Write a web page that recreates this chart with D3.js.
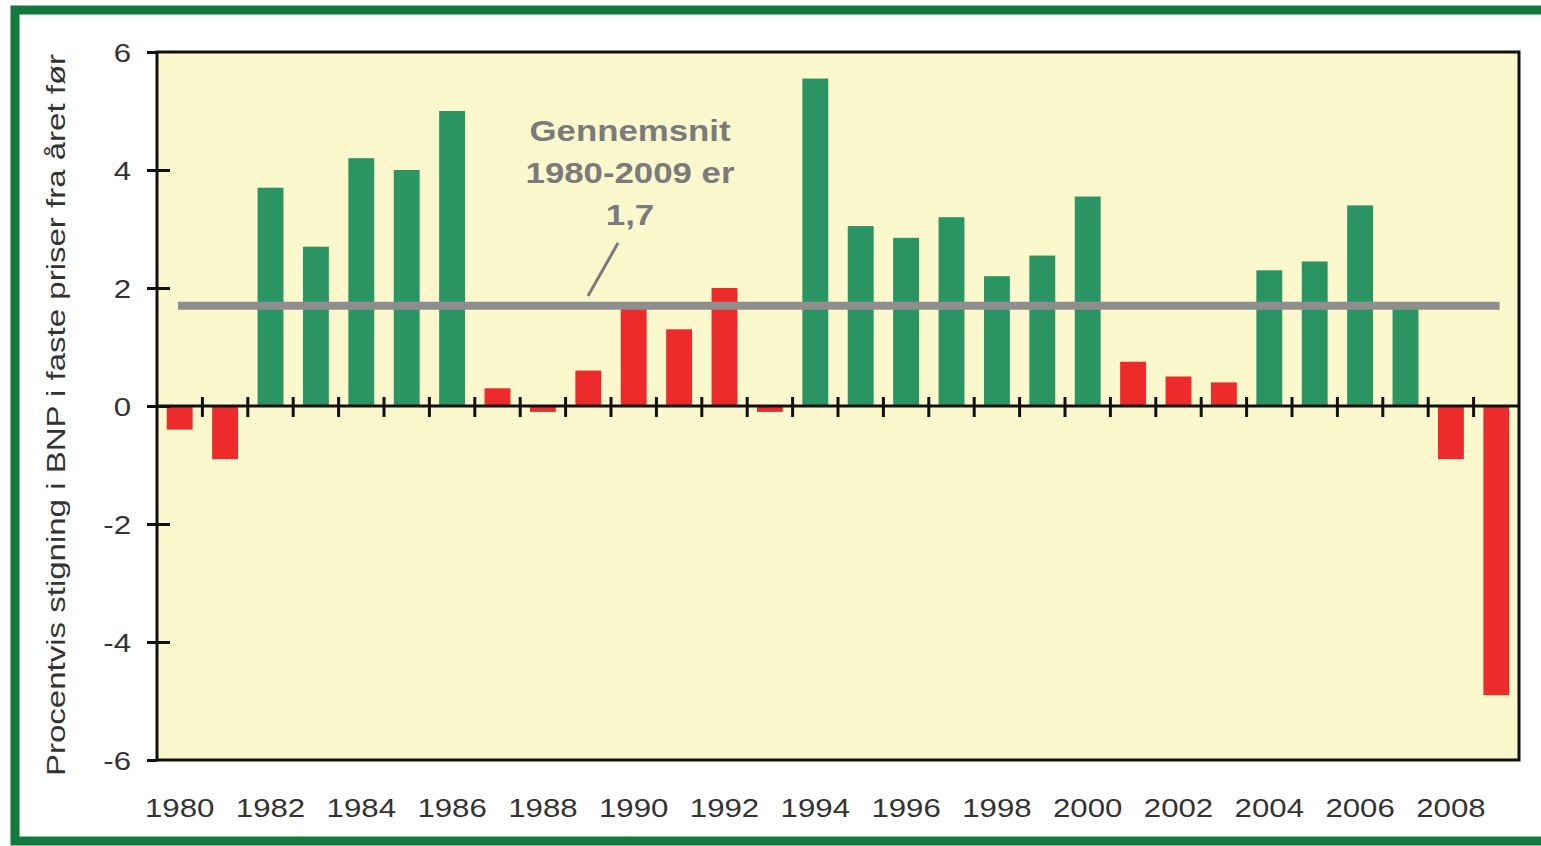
<!DOCTYPE html>
<html><head><meta charset="utf-8">
<script src="https://cdn.jsdelivr.net/npm/d3@7"></script>
<style>html,body{margin:0;padding:0;background:#fff;}svg{display:block;}</style>
</head><body>
<script>
const years = d3.range(1980, 2010);
const values = [-0.4,-0.9,3.7,2.7,4.2,4.0,5.0,0.3,-0.1,0.6,1.7,1.3,2.0,-0.1,5.55,3.05,2.85,3.2,2.2,2.55,3.55,0.75,0.5,0.4,2.3,2.45,3.4,1.7,-0.9,-4.9];
const aboveAvg = [0,0,1,1,1,1,1,0,0,0,0,0,0,0,1,1,1,1,1,1,1,0,0,0,1,1,1,1,0,0];
const yTicks = [-6,-4,-2,0,2,4,6];
const xTickLabels = d3.range(1980, 2010, 2);
const average = 1.7;
const annotation = ["Gennemsnit", "1980-2009 er", "1,7"];
const yLabel = "Procentvis stigning i BNP i faste priser fra året før";

const W = 1541, H = 846;
const SX = 1.2; // horizontal stretch of the original picture's text
const FONT = "Liberation Sans, Arial, sans-serif";
const m = {left:157, right:1519, top:52, bottom:760};
const svg = d3.select("body").append("svg").attr("width", W).attr("height", H);

// frame
svg.append("rect").attr("x",15).attr("y",10).attr("width",W+10).attr("height",831)
  .attr("fill","#fff").attr("stroke","#137a3e").attr("stroke-width",9);

const x = d3.scaleBand().domain(years).range([m.left, m.right]).paddingInner(0.43).paddingOuter(0.215);
const xb = d3.scaleBand().domain(years).range([m.left, m.right]);
const y = d3.scaleLinear().domain([-6, 6]).range([m.bottom, m.top]);

svg.append("rect").attr("x",m.left).attr("y",m.top).attr("width",m.right-m.left).attr("height",m.bottom-m.top)
  .attr("fill","#fcf8cd");

// bars
svg.append("g").selectAll("rect").data(years).join("rect")
  .attr("x", d => x(d))
  .attr("width", x.bandwidth())
  .attr("y", (d,i) => y(Math.max(0, values[i])))
  .attr("height", (d,i) => Math.abs(y(values[i]) - y(0)))
  .attr("fill", (d,i) => aboveAvg[i] ? "#2a9463" : "#ee2b2b");

// average line
svg.append("line").attr("x1", xb(1980)+21).attr("x2", xb(2009)+26)
  .attr("y1", y(average)).attr("y2", y(average))
  .attr("stroke","#8e8e8e").attr("stroke-width",8);

// annotation
annotation.forEach((t,i) => svg.append("text")
  .attr("transform", `translate(630,${141+i*42}) scale(${SX},1)`)
  .attr("text-anchor","middle").attr("fill","#7b7b7b")
  .attr("font-family",FONT).attr("font-weight","bold").attr("font-size",29).text(t));
svg.append("line").attr("x1",618).attr("y1",243).attr("x2",588).attr("y2",296)
  .attr("stroke","#7b7b7b").attr("stroke-width",3);

// plot border
svg.append("rect").attr("x",m.left).attr("y",m.top).attr("width",m.right-m.left).attr("height",m.bottom-m.top)
  .attr("fill","none").attr("stroke","#111").attr("stroke-width",3);

// y axis
const yAxis = svg.append("g").attr("transform",`translate(${m.left},0)`)
  .call(d3.axisLeft(y).tickValues(yTicks).tickSizeOuter(0).tickSizeInner(0).tickPadding(0).tickFormat(d => String(d)));
yAxis.select(".domain").remove();
yAxis.selectAll("text").attr("x",null).attr("dy",null)
  .attr("transform", `translate(-26,9) scale(${SX},1)`)
  .attr("font-family",FONT).attr("font-size",26).attr("fill","#333");
yAxis.selectAll(".tick").append("line").attr("x1",-10).attr("x2", d => (d===6||d===-6)?0:13)
  .attr("stroke","#111").attr("stroke-width",3);

// zero line with ticks
svg.append("line").attr("x1",m.left).attr("x2",m.right).attr("y1",y(0)).attr("y2",y(0))
  .attr("stroke","#111").attr("stroke-width",3);
svg.append("g").selectAll("line").data(years.slice(1)).join("line")
  .attr("x1", d => xb(d)).attr("x2", d => xb(d))
  .attr("y1", y(0)-9).attr("y2", y(0)+11)
  .attr("stroke","#111").attr("stroke-width",3);

// x labels
svg.append("g").selectAll("text").data(xTickLabels).join("text")
  .attr("transform", d => `translate(${xb(d) + xb.bandwidth()/2},817) scale(${SX},1)`)
  .attr("text-anchor","middle").attr("font-family",FONT)
  .attr("font-size",26).attr("fill","#333").text(d => d);

// y label
svg.append("text").attr("transform","translate(65,415) rotate(-90) scale(1.27,1)")
  .attr("text-anchor","middle").attr("font-family",FONT)
  .attr("font-size",26).attr("fill","#333").text(yLabel);
</script>
</body></html>
